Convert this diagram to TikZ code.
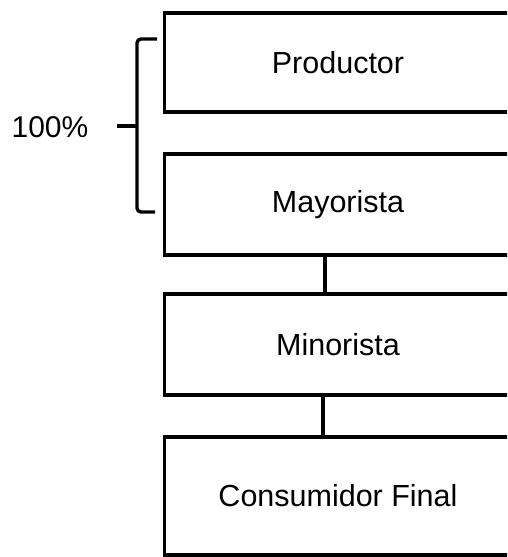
\documentclass[tikz,border=0pt]{standalone}
\usepackage{fontspec}
\setmainfont{Liberation Sans}
\tikzset{
  caja/.style={draw, line width=3.4pt, rectangle, minimum width=347pt,
    font=\fontsize{30.5}{32}\selectfont},
  linea/.style={line width=3.4pt},
}
\begin{document}
\begin{tikzpicture}[x=1pt, y=-1pt]
  \useasboundingbox (0, 0) rectangle (507, 557);
  \clip (0, 0) rectangle (507, 557);
  \node[caja, minimum height=99pt] (prod) at (338, 62.5) {Productor};
  \node[caja, minimum height=101pt] (mayo) at (338, 204.5) {Mayorista};
  \node[caja, minimum height=101pt] (mino) at (338, 344.5) {Minorista};
  \node[caja, minimum height=118pt] (cons) at (338, 496) {Consumidor Final};
  \draw[linea] ([xshift=-13pt]mayo.south) -- ([xshift=-13pt]mino.north);
  \draw[linea] ([xshift=-15pt]mino.south) -- ([xshift=-15pt]cons.north);
  \draw[linea, rounded corners=4pt] (157, 39) -- (137, 39) -- (137, 212)
    -- (155, 212);
  \draw[linea] (137, 126) -- (117, 126);
  \node[font=\fontsize{30}{32}\selectfont] (pct) at (50, 127) {100\%};
\end{tikzpicture}
\end{document}
